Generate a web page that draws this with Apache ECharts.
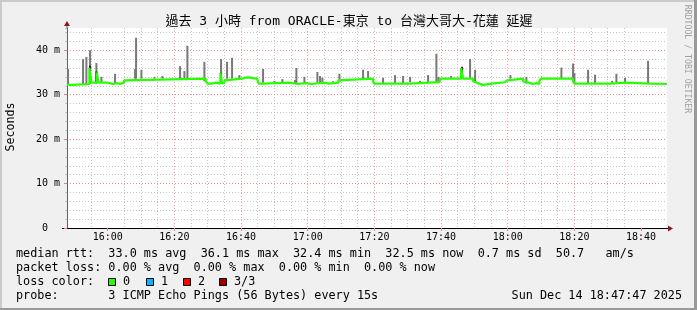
<!DOCTYPE html>
<html><head><meta charset="utf-8">
<script src="https://cdn.jsdelivr.net/npm/echarts@6/dist/echarts.min.js"></script>
<style>html,body{margin:0;padding:0;background:#f0f0f0}#c{width:697px;height:310px}</style>
</head><body><div id="c"></div>
<script>
// ---- text ----
const titleText = '過去 3 小時 from ORACLE-東京 to 台灣大哥大-花蓮 延遲';
const yAxisName = 'Seconds';
const creditText = 'RRDTOOL / TOBI OETIKER';
const dateText = 'Sun Dec 14 18:47:47 2025';
const probeText = '3 ICMP Echo Pings (56 Bytes) every 15s';

// ---- axes (time in minutes after 15:00, values in ms) ----
const timeMin = 47.78, timeMax = 227.78;
const xTickValues = [60, 80, 100, 120, 140, 160, 180, 200, 220];
const xTickLabels = ['16:00', '16:20', '16:40', '17:00', '17:20', '17:40', '18:00', '18:20', '18:40'];
const xMinorValues = [50, 55, 65, 70, 75, 85, 90, 95, 105, 110, 115, 125, 130, 135, 145, 150, 155, 165, 170, 175, 185, 190, 195, 205, 210, 215, 225];
const yMin = 0, yMax = 45;
const yTickValues = [0, 10, 20, 30, 40];
const yTickLabels = ['0  ', '10 m', '20 m', '30 m', '40 m'];

// ---- median rtt (step line) ----
const medianTimes = [47.78, 49.5, 54.5, 55.1, 56.7, 57.3, 59.8, 61.6, 62.8, 63.7, 64.9, 65.5,
  89.4, 90.0, 91.2, 92.5, 93.8, 94.3, 95.0, 95.5, 100.3, 101.9, 104.8, 105.3, 106.2,
  114.5, 115.1, 116.9, 119.3, 121.3, 124.6, 126.5, 129.2, 129.6, 139.6, 139.9, 145.9, 146.5,
  150.4, 159.5, 159.8, 166.0, 166.6, 169.6, 170.0, 171.1, 172.6, 175.3, 179.2, 179.9,
  184.6, 185.2, 186.3, 187.5, 188.7, 189.5, 189.9, 199.6, 200.0, 207.5, 208.1, 210.7,
  215.2, 223.0, 223.6, 227.78];
const medianMs = [32.2, 32.4, 36.0, 32.7, 35.0, 32.7, 32.4, 32.6, 32.4, 32.7, 33.2, 33.6,
  33.0, 32.5, 32.7, 32.5, 34.9, 32.6, 33.2, 33.6, 33.9, 33.6, 33.2, 32.5, 32.7,
  32.6, 32.4, 32.6, 32.4, 32.7, 32.5, 32.7, 33.2, 33.6, 33.0, 32.5, 32.9, 32.5,
  32.8, 33.2, 33.6, 36.0, 33.6, 33.0, 32.6, 32.2, 32.5, 32.8, 33.2, 33.6,
  33.0, 32.7, 32.4, 32.6, 32.4, 33.0, 33.6, 33.0, 32.5, 32.3, 32.5, 32.7,
  32.5, 32.3, 32.4, 32.4];

// ---- smoke: spread of the pings ----
const smokeTimes = [48.1, 52.6, 53.6, 54.7, 56.6, 58.1, 62.2, 68.2, 68.5, 70.1, 74.0, 76.4, 81.7, 83.0, 83.9,
  89.0, 94.0, 95.8, 97.3, 99.5, 106.6, 110.0, 112.4, 116.2, 116.6, 119.0, 122.9, 123.7, 124.4, 127.6,
  129.5, 136.6, 138.1, 142.6, 146.2, 148.6, 150.7, 153.7, 156.1, 158.6, 159.2, 163.0, 166.3, 168.7,
  170.2, 180.8, 185.6, 196.1, 199.6, 200.0, 204.1, 206.2, 211.3, 212.6, 215.2, 222.1];
const smokeLow = [32.3, 32.4, 32.4, 32.4, 32.7, 32.7, 32.5, 33.6, 33.6, 33.6, 33.6, 33.6, 33.6, 33.6, 33.6,
  33.0, 32.6, 33.6, 33.6, 33.6, 32.7, 32.7, 32.7, 32.6, 32.6, 32.5, 32.7, 32.7, 32.6, 32.7,
  33.0, 33.6, 33.6, 32.5, 32.5, 32.5, 32.8, 32.8, 32.8, 32.8, 32.8, 33.6, 33.6, 33.6,
  32.6, 33.6, 32.5, 33.6, 33.2, 32.5, 32.5, 32.5, 32.7, 32.7, 32.6, 32.4];
const smokeHigh = [35.8, 38.0, 38.5, 40.0, 37.1, 34.0, 34.7, 35.8, 42.8, 35.6, 34.0, 34.2, 36.4, 35.3, 41.0,
  37.4, 38.0, 37.4, 38.3, 34.4, 35.8, 33.1, 33.5, 33.3, 36.0, 34.0, 35.1, 34.2, 33.8, 33.0,
  34.7, 35.6, 35.3, 33.8, 34.4, 34.2, 34.0, 33.1, 34.4, 39.2, 34.0, 34.2, 36.3, 38.0,
  35.6, 34.4, 34.0, 36.1, 37.0, 34.9, 35.6, 34.5, 33.1, 34.7, 33.8, 37.6];
const denseTimes = [54.7, 56.6, 94.0, 166.3];
const denseLow = [32.9, 32.5, 32.5, 33.5];
const denseHigh = [36.5, 35.2, 34.9, 36.2];

// ---- legend stats ----
const rttAvg = '33.0', rttMax = '36.1', rttMin = '32.4', rttNow = '32.5', rttSd = '0.7', rttAmps = '50.7';
const lossAvg = '0.00', lossMax = '0.00', lossMin = '0.00', lossNow = '0.00';
const lossLabels = ['0', '1', '2', '3/3'];
const lossColors = ['#26ff00', '#00b8ff', '#ff0000', '#a00000'];

const MONO = "'DejaVu Sans Mono', monospace";
const TITLEFONT = "'DejaVu Sans Mono', 'Noto Sans CJK TC', monospace";

function zip(a, b, c) { return a.map((v, i) => c ? [v, b[i], c[i]] : [v, b[i]]); }

function barRenderer(color) {
  return function (params, api) {
    const t = api.value(0), lo = api.value(1), hi = api.value(2);
    const pTop = api.coord([t, hi]);
    const pBot = api.coord([t, lo]);
    const w = api.size([0.6, 0])[0];
    return {
      type: 'rect',
      shape: { x: pTop[0] - w / 2, y: pTop[1], width: w, height: pBot[1] - pTop[1] },
      style: { fill: color }
    };
  };
}

const legendLine1 = `median rtt:  ${rttAvg} ms avg  ${rttMax} ms max  ${rttMin} ms min  ${rttNow} ms now  ${rttSd} ms sd  ${rttAmps}   am/s`;
const legendLine2 = `packet loss: ${lossAvg} % avg  ${lossMax} % max  ${lossMin} % min  ${lossNow} % now`;
const legendLine4 = `probe:       ${probeText}`;

const lossBoxX = [108, 146, 183, 219];
const graphics = [
  { type: 'rect', shape: { x: 0, y: 0, width: 697, height: 2 }, style: { fill: '#cbcbcb' }, silent: true },
  { type: 'rect', shape: { x: 0, y: 0, width: 2, height: 310 }, style: { fill: '#cbcbcb' }, silent: true },
  { type: 'rect', shape: { x: 0, y: 308, width: 697, height: 2 }, style: { fill: '#999999' }, silent: true },
  { type: 'rect', shape: { x: 694, y: 0, width: 3, height: 310 }, style: { fill: '#999999' }, silent: true },
  // axis extensions and arrows
  { type: 'line', shape: { x1: 67, y1: 28, x2: 67, y2: 24 }, style: { stroke: '#606060', lineWidth: 1 }, silent: true },
  { type: 'polygon', shape: { points: [[64, 26], [70, 26], [67, 21]] }, style: { fill: '#8b1a1a' }, silent: true },
  { type: 'line', shape: { x1: 62, y1: 228.5, x2: 670, y2: 228.5 }, style: { stroke: '#000', lineWidth: 1 }, silent: true },
  { type: 'polygon', shape: { points: [[668, 225.5], [668, 231.5], [673, 228.5]] }, style: { fill: '#8b1a1a' }, silent: true },
  { type: 'text', x: 349, y: 22, style: { text: titleText, font: '13px ' + TITLEFONT, fill: '#000', textAlign: 'center', textVerticalAlign: 'middle' }, silent: true },
  { type: 'text', x: 11, y: 127, rotation: Math.PI / 2, style: { text: yAxisName, font: '11.6px ' + MONO, fill: '#000', textAlign: 'center', textVerticalAlign: 'middle' }, silent: true },
  { type: 'text', x: 687, y: 59, rotation: -Math.PI / 2, style: { text: creditText, font: '8.2px ' + MONO, fill: '#a0a0a0', textAlign: 'center', textVerticalAlign: 'middle' }, silent: true },
  { type: 'text', x: 16, y: 254, style: { text: legendLine1, font: '11.8px ' + MONO, fill: '#000', textAlign: 'left', textVerticalAlign: 'middle' }, silent: true },
  { type: 'text', x: 16, y: 268, style: { text: legendLine2, font: '11.8px ' + MONO, fill: '#000', textAlign: 'left', textVerticalAlign: 'middle' }, silent: true },
  { type: 'text', x: 16, y: 282, style: { text: 'loss color:', font: '11.8px ' + MONO, fill: '#000', textAlign: 'left', textVerticalAlign: 'middle' }, silent: true },
  { type: 'text', x: 16, y: 296, style: { text: legendLine4, font: '11.8px ' + MONO, fill: '#000', textAlign: 'left', textVerticalAlign: 'middle' }, silent: true },
  { type: 'text', x: 682, y: 296, style: { text: dateText, font: '11.8px ' + MONO, fill: '#000', textAlign: 'right', textVerticalAlign: 'middle' }, silent: true }
];
lossLabels.forEach((lab, i) => {
  graphics.push({ type: 'rect', shape: { x: lossBoxX[i] + 0.5, y: 278.5, width: 7, height: 7 }, style: { fill: lossColors[i], stroke: '#000', lineWidth: 1 }, silent: true });
  graphics.push({ type: 'text', x: lossBoxX[i] + 15, y: 282, style: { text: lab, font: '11.8px ' + MONO, fill: '#000', textAlign: 'left', textVerticalAlign: 'middle' }, silent: true });
});

const chart = echarts.init(document.getElementById('c'), null, { renderer: 'canvas' });
chart.setOption({
  animation: false,
  backgroundColor: '#f0f0f0',
  grid: { left: 67, right: 30, top: 28, bottom: 82, show: true, backgroundColor: '#ffffff', borderWidth: 0 },
  xAxis: [
    {
      type: 'value', min: timeMin, max: timeMax, position: 'bottom', z: 2,
      axisLine: { show: false },
      axisTick: { show: true, customValues: xTickValues, length: 3, lineStyle: { color: '#f08080' } },
      axisLabel: {
        customValues: xTickValues, margin: 4, fontSize: 10, fontFamily: MONO, color: '#000',
        formatter: v => xTickLabels[xTickValues.indexOf(Math.round(v))] || ''
      },
      splitLine: { show: true, showMinLine: false, showMaxLine: false, lineStyle: { color: 'rgba(240,120,120,0.7)', type: [1, 2], width: 1 } }
    },
    {
      type: 'value', min: timeMin, max: timeMax, position: 'bottom', z: 1,
      axisLine: { show: false },
      axisTick: { show: false, customValues: xMinorValues },
      axisLabel: { show: false, customValues: xMinorValues },
      splitLine: { show: true, showMinLine: false, showMaxLine: false, lineStyle: { color: '#c4c4c4', type: [1, 2], width: 1 } }
    }
  ],
  yAxis: [
    {
      type: 'value', min: yMin, max: yMax, interval: 10, z: 2,
      axisLine: { show: true, lineStyle: { color: '#606060' } },
      axisTick: { show: true, length: 3, lineStyle: { color: '#f08080' } },
      axisLabel: {
        showMaxLabel: false, margin: 7, fontSize: 10, fontFamily: MONO, color: '#000',
        formatter: v => { const i = yTickValues.indexOf(v); return i >= 0 ? yTickLabels[i] : ''; }
      },
      splitLine: { show: true, showMinLine: false, showMaxLine: false, lineStyle: { color: 'rgba(240,120,120,0.7)', type: [1, 2], width: 1 } }
    },
    {
      type: 'value', min: yMin, max: yMax, interval: 2, z: 1, position: 'left',
      axisLine: { show: false },
      axisTick: { show: true, length: 2, lineStyle: { color: '#c4c4c4' } },
      axisLabel: { show: false },
      splitLine: { show: true, showMinLine: false, showMaxLine: false, lineStyle: { color: '#c4c4c4', type: [1, 2], width: 1 } }
    }
  ],
  series: [
    {
      type: 'custom', name: 'smoke', xAxisIndex: 0, yAxisIndex: 0, z: 3, silent: true,
      renderItem: barRenderer('#787878'), encode: { x: 0, y: [1, 2] },
      data: zip(smokeTimes, smokeLow, smokeHigh)
    },
    {
      type: 'custom', name: 'dense smoke', xAxisIndex: 0, yAxisIndex: 0, z: 4, silent: true,
      renderItem: barRenderer('#202020'), encode: { x: 0, y: [1, 2] },
      data: zip(denseTimes, denseLow, denseHigh)
    },
    {
      type: 'line', name: 'median rtt', xAxisIndex: 0, yAxisIndex: 0, z: 5, step: 'end',
      symbol: 'none', silent: true,
      lineStyle: { color: lossColors[0], width: 2.2 },
      data: zip(medianTimes, medianMs)
    }
  ],
  graphic: graphics
});
</script></body></html>
